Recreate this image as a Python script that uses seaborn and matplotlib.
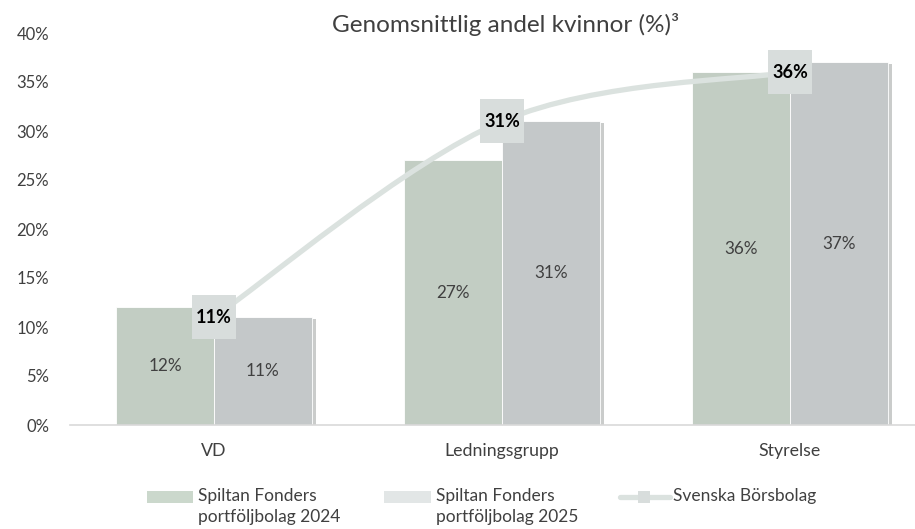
import numpy as np
import pandas as pd
import matplotlib
matplotlib.use("Agg")
import matplotlib.pyplot as plt
import seaborn as sns
from matplotlib.path import Path
from matplotlib.patches import PathPatch, Rectangle
from matplotlib.lines import Line2D
import matplotlib.patheffects as pe

categories = ["VD", "Ledningsgrupp", "Styrelse"]
series_names = ["Spiltan Fonders\nportföljbolag 2024", "Spiltan Fonders\nportföljbolag 2025"]
line_name = "Svenska Börsbolag"
vals_2024 = [12, 27, 36]
vals_2025 = [11, 31, 37]
borsbolag = [11, 31, 36]
yticks = [0, 5, 10, 15, 20, 25, 30, 35, 40]
title = "Genomsnittlig andel kvinnor (%)³"

sns.set_theme(style="white")
plt.rcParams["font.family"] = ["Lato", "DejaVu Sans"]

bar_colors = ["#c2cdc3", "#c4c8c9"]
legend_colors = ["#cbd8cc", "#e2e6e6"]
line_color = "#dbe2df"
box_color = "#d8dddc"
text_color = "#404040"

W, H = 915, 529
df = pd.DataFrame({
    "cat": categories * 2,
    "val": vals_2024 + vals_2025,
    "series": [series_names[0]] * 3 + [series_names[1]] * 3,
})

fig = plt.figure(figsize=(W / 100, H / 100), dpi=100)
ax = fig.add_axes([70 / W, 104 / H, 845 / W, 392 / H])

sns.barplot(data=df, x="cat", y="val", hue="series", palette=bar_colors,
            width=0.68, gap=0, ax=ax, legend=False, saturation=1,
            edgecolor="white", linewidth=0.6)

for p in ax.patches:
    p.set_path_effects([pe.SimplePatchShadow(offset=(3, -1), shadow_rgbFace="#8a8e8c", alpha=0.45),
                        pe.Normal()])
    h = p.get_height()
    ax.text(p.get_x() + p.get_width() / 2, h / 2, f"{h:.0f}%", ha="center", va="center",
            fontsize=12.3, color=text_color, zorder=5)

# smoothed line (Catmull-Rom through the data points)
xs = np.arange(len(categories), dtype=float)
ys = np.array(borsbolag, dtype=float)
verts = [(xs[0], ys[0])]
codes = [Path.MOVETO]
px = np.concatenate([[xs[0]], xs, [xs[-1]]])
py = np.concatenate([[ys[0]], ys, [ys[-1]]])
for i in range(1, len(px) - 2):
    c1 = (px[i] + (px[i + 1] - px[i - 1]) / 6, py[i] + (py[i + 1] - py[i - 1]) / 6)
    c2 = (px[i + 1] - (px[i + 2] - px[i]) / 6, py[i + 1] - (py[i + 2] - py[i]) / 6)
    verts += [c1, c2, (px[i + 1], py[i + 1])]
    codes += [Path.CURVE4] * 3
ax.add_patch(PathPatch(Path(verts, codes), facecolor="none", edgecolor=line_color,
                       lw=3.8, zorder=6, capstyle="round"))
ax.plot(xs, ys, linestyle="none", marker="s", markersize=32, color=box_color,
        markeredgewidth=0, zorder=7)
for x, y in zip(xs, ys):
    ax.text(x, y, f"{y:.0f}%", ha="center", va="center", fontsize=13,
            fontweight="bold", color="black", zorder=8)

ax.set_xlim(-0.5, 2.434)
ax.set_ylim(0, 40)
ax.set_yticks(yticks)
ax.set_yticklabels([f"{t}%" for t in yticks])
ax.set_xlabel("")
ax.set_ylabel("")
ax.tick_params(axis="y", length=0, labelsize=12, colors=text_color, pad=15)
ax.tick_params(axis="x", length=0, labelsize=12.8, colors=text_color, pad=13)
for s in ["top", "right", "left"]:
    ax.spines[s].set_visible(False)
ax.spines["bottom"].set_color("#d9d9d9")
ax.spines["bottom"].set_linewidth(1.2)
ax.set_xticks(range(len(categories)))
ax.set_xticklabels(categories)

fig.text(506 / W, 1 - 24 / H, title, ha="center", va="center", fontsize=17.5, color=text_color)

# legend (drawn in figure pixel coordinates)
def fx(v):
    return v / W

def fy(v):
    return 1 - v / H

for (x0, x1), col, lab in zip([(147, 193), (384, 431)], legend_colors, series_names):
    fig.add_artist(Rectangle((fx(x0), fy(503)), fx(x1 - x0), (503 - 491) / H,
                             facecolor=col, edgecolor="none", transform=fig.transFigure))
    fig.text(fx(x1 + 5), fy(488), lab, ha="left", va="top", fontsize=12.5,
             color=text_color, linespacing=1.35)
fig.add_artist(Line2D([fx(620), fx(670)], [fy(497), fy(497)], color=line_color, lw=3.8,
                      transform=fig.transFigure, solid_capstyle="round"))
fig.add_artist(Line2D([fx(644)], [fy(497)], marker="s", markersize=8, color=box_color,
                      markeredgewidth=0, linestyle="none", transform=fig.transFigure))
fig.text(fx(673), fy(488), line_name, ha="left", va="top", fontsize=12.5, color=text_color)

fig.savefig("out.png", dpi=100)
